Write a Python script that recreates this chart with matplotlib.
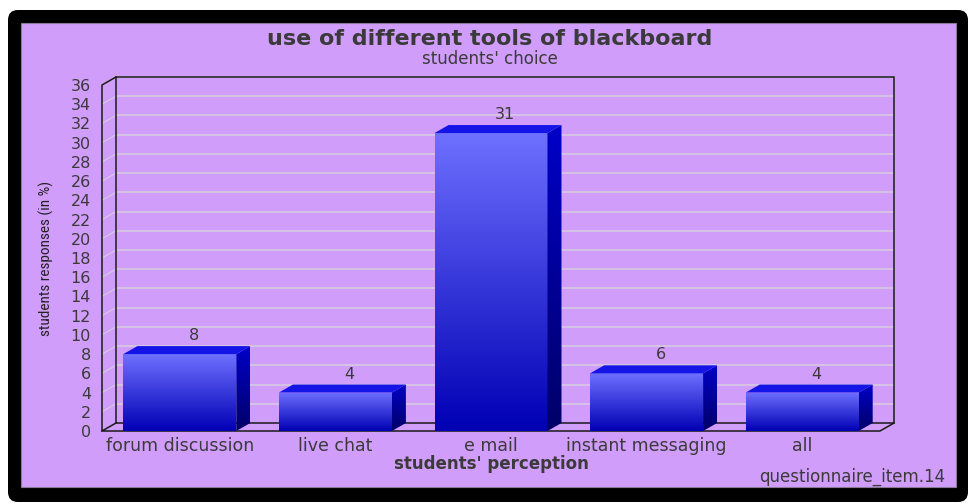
import numpy as np
import matplotlib
matplotlib.use("Agg")
import matplotlib.pyplot as plt
from matplotlib.patches import Polygon, Rectangle, FancyBboxPatch
from matplotlib.colors import LinearSegmentedColormap

# chart data
categories = ["forum discussion", "live chat", "e mail", "instant messaging", "all"]
values = [8, 4, 31, 6, 4]
y_ticks = list(range(0, 37, 2))

title = "use of different tools of blackboard"
subtitle = "students' choice"
x_title = "students' perception"
y_title = "students responses (in %)"
footnote = "questionnaire_item.14"

bg = "#D19DFB"
txt = "#3A3A3A"
grid_col = "#D6CCDC"

W, H = 968, 504
fig = plt.figure(figsize=(W / 100, H / 100), dpi=100)
fig.patch.set_facecolor("white")

# decoration layer in pixel coordinates
deco = fig.add_axes([0, 0, 1, 1], zorder=0)
deco.set_xlim(0, W)
deco.set_ylim(H, 0)
deco.axis("off")
deco.add_patch(FancyBboxPatch((8, 10), 960, 492, boxstyle="round,pad=0,rounding_size=10",
                              facecolor="black", edgecolor="none"))
deco.add_patch(Rectangle((21, 23), 935, 464, facecolor=bg, edgecolor="#8a7a95", lw=0.8))

deco.text(490, 39, title, ha="center", va="center", fontsize=16, fontweight="bold", color=txt)
deco.text(490, 59, subtitle, ha="center", va="center", fontsize=12, color=txt)
deco.text(46, 258, y_title, ha="center", va="center", rotation=90, fontsize=11, color="#222222",
          family=["Roboto Condensed", "Liberation Sans Narrow", "DejaVu Sans"])
deco.text(491, 464, x_title, ha="center", va="center", fontsize=12, fontweight="bold", color=txt)
deco.text(945, 477, footnote, ha="right", va="center", fontsize=12, color=txt)

# main plot area (front plane)
left, right, top, bottom = 102, 880, 85, 431
ax = fig.add_axes([left / W, (H - bottom) / H, (right - left) / W, (bottom - top) / H], zorder=1)
ax.patch.set_alpha(0)
n = len(categories)
ax.set_xlim(-0.5, n - 0.5)
ax.set_ylim(0, 36)
for s in ax.spines.values():
    s.set_visible(False)

# depth offset converted to data units
dx = 14 / ((right - left) / n)
dy = 8 / ((bottom - top) / 36)
x0, x1 = -0.5, n - 0.5

# back wall and grid
for t in y_ticks[1:]:
    ax.plot([x0 + dx, x1 + dx], [t + dy, t + dy], color=grid_col, lw=1.1, zorder=1, clip_on=False)
    ax.plot([x0, x0 + dx], [t, t + dy], color=grid_col, lw=0.8, zorder=1, clip_on=False)
ax.add_patch(Rectangle((x0 + dx, dy), x1 - x0, 36, fill=False, edgecolor="#1a1a1a", lw=1.1,
                       zorder=2, clip_on=False))
# side wall and floor outlines
ax.plot([x0, x0, x0 + dx], [0, 36, 36 + dy], color="#1a1a1a", lw=1.1, zorder=2, clip_on=False)
ax.plot([x0 + dx, x0, x1, x1 + dx], [dy, 0, 0, dy], color="#1a1a1a", lw=1.1, zorder=2, clip_on=False)

front_cmap = LinearSegmentedColormap.from_list("front", ["#0000B4", "#6E70FF"])
side_cmap = LinearSegmentedColormap.from_list("side", ["#000068", "#0000C8"])
grad = np.linspace(0, 1, 256).reshape(-1, 1)

xs = np.arange(n)
bw = 0.726
bars = ax.bar(xs, values, width=bw, color="none", edgecolor="none", zorder=3)
for xi, v, b in zip(xs, values, bars):
    bl, br = xi - bw / 2, xi + bw / 2
    im = ax.imshow(grad, extent=[bl, br, 0, v], origin="lower", aspect="auto", cmap=front_cmap, zorder=3)
    im.set_clip_path(b)
    side = Polygon([(br, 0), (br + dx, dy), (br + dx, v + dy), (br, v)], closed=True,
                   facecolor="none", edgecolor="none", zorder=3)
    ax.add_patch(side)
    im2 = ax.imshow(grad, extent=[br, br + dx, 0, v + dy], origin="lower", aspect="auto",
                    cmap=side_cmap, zorder=3)
    im2.set_clip_path(side)
    ax.add_patch(Polygon([(bl, v), (br, v), (br + dx, v + dy), (bl + dx, v + dy)], closed=True,
                         facecolor="#1414E6", edgecolor="none", zorder=3))
    ax.text(xi + dx, v + dy + 0.3, str(v), ha="center", va="bottom", fontsize=11.5, color=txt, zorder=4)

ax.set_xlim(-0.5, n - 0.5)
ax.set_ylim(0, 36)
ax.set_xticks(xs)
ax.set_xticklabels(categories, fontsize=12.5, color=txt)
ax.set_yticks(y_ticks)
ax.set_yticklabels([str(t) for t in y_ticks], fontsize=11.5, color=txt)
ax.tick_params(axis="both", length=0)
ax.tick_params(axis="y", pad=8)
ax.tick_params(axis="x", pad=4)

fig.savefig("out.png", dpi=100, facecolor="white")
